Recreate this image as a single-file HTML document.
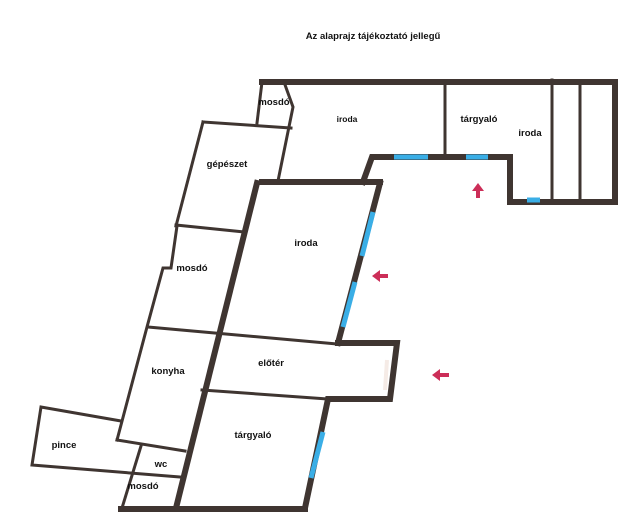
<!DOCTYPE html>
<html><head><meta charset="utf-8"><style>
html,body{margin:0;padding:0;background:#fff;width:640px;height:532px;overflow:hidden}
svg{display:block}
text{font-family:"Liberation Sans",sans-serif;font-weight:bold;font-size:9.5px;fill:#111}
</style></head><body>
<svg width="640" height="532" viewBox="0 0 640 532">
<text x="373" y="39" text-anchor="middle" style="font-size:9.5px">Az alaprajz tájékoztató jellegű</text>
<g stroke="#3f3531" fill="none" stroke-linecap="square">
<!-- thick walls -->
<g stroke-width="6">
<polyline points="262,82 615,82 615,202 510,202 510,157 372,157 363,182"/>
<line x1="262" y1="182" x2="380" y2="182"/>
<line x1="257" y1="183" x2="176" y2="508"/>
<line x1="380" y1="183" x2="338" y2="343"/>
<polyline points="338,343 397,343 390,399 328,399 305,508"/>
<line x1="121" y1="509" x2="305" y2="509"/>
</g>
<!-- thin walls -->
<g stroke-width="3">
<line x1="445" y1="82" x2="445" y2="157"/>
<line x1="552" y1="80" x2="552" y2="202"/>
<line x1="580" y1="82" x2="580" y2="202"/>
<line x1="262" y1="82" x2="257" y2="123"/>
<polyline points="284,82 293,107 278,181"/>
<line x1="203" y1="122" x2="291" y2="128"/>
<line x1="203" y1="122" x2="176" y2="226"/>
<line x1="176" y1="225" x2="244" y2="232"/>
<polyline points="177,226 171,268 163,268 147,327 117,440"/>
<line x1="148" y1="327" x2="337" y2="344"/>
<line x1="117" y1="440" x2="185" y2="451"/>
<polyline points="121,421 41,407 32,465 180,477"/>
<line x1="141" y1="446" x2="122" y2="508"/>
<line x1="202" y1="390" x2="328" y2="399"/>
</g>
</g>
<!-- windows -->
<g stroke="#3aaee6" stroke-width="5">
<line x1="394" y1="157" x2="428" y2="157"/>
<line x1="466" y1="157" x2="488" y2="157"/>
<line x1="527" y1="200" x2="540" y2="200"/>
<line x1="373" y1="212" x2="362" y2="256"/>
<line x1="355" y1="282" x2="343" y2="327"/>
<line x1="323" y1="432" x2="311" y2="478"/>
</g>
<line x1="387" y1="360" x2="385" y2="390" stroke="#f5ebe6" stroke-width="4"/>
<!-- arrows -->
<g fill="#cc2e58">
<polygon points="478,183 484,191 480,191 480,198 476,198 476,191 472,191"/>
<polygon points="372,276 380,270 380,274 388,274 388,278 380,278 380,282"/>
<polygon points="432,375 440,369 440,373 449,373 449,377 440,377 440,381"/>
</g>
<text x="274" y="105" text-anchor="middle">mosdó</text>
<text x="347" y="122" text-anchor="middle" style="font-size:8.5px">iroda</text>
<text x="479" y="122" text-anchor="middle">tárgyaló</text>
<text x="530" y="136" text-anchor="middle">iroda</text>
<text x="227" y="167" text-anchor="middle">gépészet</text>
<text x="306" y="246" text-anchor="middle">iroda</text>
<text x="192" y="271" text-anchor="middle">mosdó</text>
<text x="168" y="374" text-anchor="middle">konyha</text>
<text x="271" y="366" text-anchor="middle">előtér</text>
<text x="64" y="448" text-anchor="middle">pince</text>
<text x="161" y="467" text-anchor="middle">wc</text>
<text x="253" y="438" text-anchor="middle">tárgyaló</text>
<text x="143" y="489" text-anchor="middle">mosdó</text>
</svg>
</body></html>
